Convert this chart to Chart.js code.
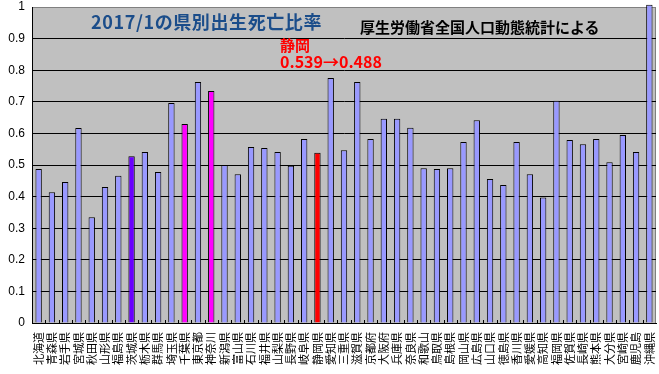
<!DOCTYPE html>
<html>
<head>
<meta charset="utf-8">
<script src="https://cdn.jsdelivr.net/npm/chart.js@4.4.1/dist/chart.umd.min.js"></script>
<style>
  body { margin: 0; background: #fff; }
  #wrap { position: relative; width: 659px; height: 374px; }
  .t { position: absolute; font-family: "Noto Sans CJK JP", sans-serif; font-weight: bold; white-space: nowrap; line-height: 1; }
</style>
</head>
<body>
<div id="wrap">
  <canvas id="c" width="659" height="374"></canvas>
  <div class="t" style="left:91px;top:12px;font-size:18px;letter-spacing:0.6px;color:#1b4d8a;">2017/1の県別出生死亡比率</div>
  <div class="t" style="left:360px;top:19px;font-size:15px;color:#000;">厚生労働省全国人口動態統計による</div>
  <div class="t" style="left:280px;top:37px;font-size:15px;color:#ff0000;">静岡</div>
  <div class="t" style="left:280px;top:53px;font-size:16px;color:#ff0000;">0.539→0.488</div>
</div>
<script>
// 都道府県（ラベルは3文字）
const prefectures = [
  '北海道', '青森県', '岩手県', '宮城県', '秋田県', '山形県', '福島県', '茨城県',
  '栃木県', '群馬県', '埼玉県', '千葉県', '東京都', '神奈川', '新潟県', '富山県',
  '石川県', '福井県', '山梨県', '長野県', '岐阜県', '静岡県', '愛知県', '三重県',
  '滋賀県', '京都府', '大阪府', '兵庫県', '奈良県', '和歌山', '鳥取県', '島根県',
  '岡山県', '広島県', '山口県', '徳島県', '香川県', '愛媛県', '高知県', '福岡県',
  '佐賀県', '長崎県', '熊本県', '大分県', '宮崎県', '鹿児島', '沖縄県'
];

// 出生死亡比率 (2017/1)
const ratios = [
  0.487, 0.414, 0.446, 0.617, 0.335, 0.430, 0.466, 0.528,
  0.541, 0.478, 0.696, 0.630, 0.763, 0.734, 0.500, 0.471,
  0.557, 0.554, 0.541, 0.498, 0.582, 0.539, 0.775, 0.547,
  0.763, 0.582, 0.646, 0.646, 0.618, 0.490, 0.487, 0.490,
  0.573, 0.642, 0.456, 0.437, 0.573, 0.471, 0.397, 0.703,
  0.579, 0.566, 0.582, 0.509, 0.595, 0.541, 1.007
];

// 強調する県
const highlight = { '茨城県': '#6a00ff', '千葉県': '#ff00ff', '神奈川': '#ff00ff', '静岡県': '#ff0000' };
const barColors = prefectures.map(p => highlight[p] || '#9999ff');

// プロット背景・枠・内向き目盛
const plotDecor = {
  id: 'plotDecor',
  beforeDraw(chart) {
    const { ctx, chartArea: a } = chart;
    ctx.save();
    ctx.fillStyle = '#c0c0c0';
    ctx.fillRect(a.left, a.top, a.right - a.left, a.bottom - a.top);
    ctx.strokeStyle = '#808080';
    ctx.lineWidth = 1;
    ctx.beginPath();
    ctx.moveTo(a.left, a.top + 0.5);
    ctx.lineTo(a.right - 0.5, a.top + 0.5);
    ctx.lineTo(a.right - 0.5, a.bottom);
    ctx.stroke();
    ctx.restore();
  },
  afterDatasetsDraw(chart) {
    const { ctx, chartArea: a } = chart;
    const n = prefectures.length;
    const w = (a.right - a.left) / n;
    ctx.save();
    ctx.strokeStyle = '#000';
    ctx.lineWidth = 1;
    ctx.beginPath();
    for (let i = 1; i < n; i++) {
      const x = Math.round(a.left + i * w) + 0.5;
      ctx.moveTo(x, a.bottom);
      ctx.lineTo(x, a.bottom - 3);
    }
    ctx.stroke();
    ctx.restore();
  }
};

new Chart(document.getElementById('c'), {
  type: 'bar',
  data: {
    labels: prefectures,
    datasets: [{
      data: ratios,
      backgroundColor: barColors,
      borderColor: '#000',
      borderWidth: 1,
      barPercentage: 0.48,
      categoryPercentage: 1,
      clip: false
    }]
  },
  options: {
    responsive: false,
    animation: false,
    events: [],
    layout: { padding: { top: 7, right: 3, left: 0, bottom: 0 } },
    plugins: { legend: { display: false }, tooltip: { enabled: false } },
    scales: {
      x: {
        grid: { display: false, drawTicks: false },
        border: { color: '#000', width: 1 },
        ticks: {
          autoSkip: false,
          minRotation: 90,
          maxRotation: 90,
          padding: 9,
          color: '#000',
          font: { family: '"Noto Sans CJK JP"', size: 11 }
        },
        afterFit(scale) {
          scale.height = 51;
          scale.paddingLeft = 0;
          scale.paddingRight = 0;
        }
      },
      y: {
        min: 0,
        max: 1,
        grid: {
          color: ctx => (ctx.tick && ctx.tick.value >= 1 ? '#808080' : '#000'),
          drawTicks: false,
          lineWidth: 1
        },
        border: { color: '#000', width: 1 },
        ticks: {
          stepSize: 0.1,
          padding: 7,
          color: '#000',
          font: { family: '"Liberation Sans", Arial', size: 12 },
          callback: v => String(+v.toFixed(1))
        },
        afterFit(scale) {
          scale.width = 32;
          scale.paddingTop = 0;
          scale.paddingBottom = 0;
        }
      }
    }
  },
  plugins: [plotDecor]
});
</script>
</body>
</html>
